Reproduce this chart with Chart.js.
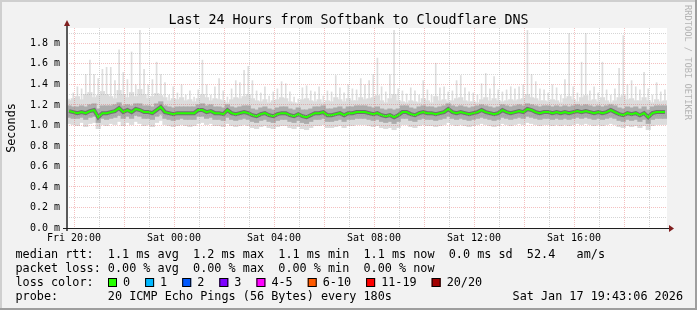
<!DOCTYPE html>
<html>
<head>
<meta charset="utf-8">
<title>Last 24 Hours from Softbank to Cloudflare DNS</title>
<script src="https://cdn.jsdelivr.net/npm/chart.js@4.4.0/dist/chart.umd.min.js"></script>
<style>
  html, body { margin: 0; padding: 0; background: #f2f2f2; }
  canvas { display: block; }
</style>
</head>
<body>
<canvas id="pingChart" width="697" height="310"></canvas>
<script>
// 24h window, one sample every 10 minutes, hours counted from Fri 00:00
const startHour = 19.72;
const endHour = 43.72;
const stepHours = 1 / 6;

// median rtt (ms)
const median = [
  1.14,1.13,1.12,1.13,1.12,1.14,1.15,1.08,1.12,1.12,1.13,1.14,1.17,1.13,1.15,1.13,1.16,1.15,1.13,1.13,1.12,1.15,1.18,1.13,1.12,1.11,1.12,1.12,1.12,1.12,1.12,1.15,1.15,1.13,1.14,1.12,
  1.12,1.11,1.15,1.12,1.11,1.12,1.13,1.12,1.10,1.09,1.11,1.12,1.10,1.09,1.11,1.12,1.12,1.10,1.09,1.11,1.09,1.08,1.10,1.12,1.12,1.13,1.10,1.10,1.11,1.12,1.10,1.12,1.12,1.13,1.13,1.13,
  1.12,1.11,1.12,1.10,1.09,1.10,1.08,1.10,1.13,1.13,1.11,1.10,1.12,1.13,1.12,1.12,1.11,1.12,1.13,1.16,1.13,1.12,1.13,1.12,1.11,1.12,1.13,1.15,1.13,1.12,1.11,1.12,1.15,1.13,1.12,1.13,
  1.14,1.13,1.16,1.15,1.13,1.12,1.13,1.13,1.12,1.13,1.12,1.13,1.12,1.13,1.14,1.13,1.14,1.13,1.12,1.13,1.12,1.13,1.15,1.13,1.11,1.10,1.12,1.11,1.12,1.10,1.12,1.08,1.12,1.13,1.13,1.13
];

// slowest ping of each round (spikes)
const pingMax = [
  1.26,1.32,1.38,1.36,1.50,1.64,1.50,1.46,1.55,1.57,1.57,1.44,1.74,1.52,1.45,1.72,1.40,1.93,1.55,1.40,1.45,1.62,1.50,1.42,1.30,1.38,1.32,1.40,1.30,1.34,1.28,1.35,1.64,1.40,1.30,1.38,
  1.46,1.34,1.28,1.36,1.44,1.42,1.54,1.58,1.44,1.34,1.32,1.38,1.29,1.33,1.36,1.43,1.41,1.33,1.28,1.26,1.37,1.39,1.34,1.33,1.38,1.29,1.34,1.33,1.49,1.37,1.32,1.40,1.36,1.35,1.46,1.40,
  1.44,1.50,1.66,1.38,1.33,1.50,1.93,1.36,1.34,1.31,1.37,1.34,1.30,1.44,1.35,1.30,1.61,1.37,1.38,1.33,1.34,1.44,1.49,1.37,1.33,1.32,1.30,1.41,1.51,1.36,1.48,1.35,1.33,1.35,1.38,1.36,
  1.38,1.40,1.93,1.50,1.43,1.36,1.35,1.32,1.40,1.37,1.30,1.45,1.90,1.38,1.32,1.62,1.90,1.34,1.38,1.32,1.62,1.35,1.30,1.36,1.56,1.88,1.40,1.44,1.38,1.35,1.52,1.36,1.30,1.42,1.33,1.35
];

// upper edge of the light smoke
const ping90 = [
  1.24,1.26,1.28,1.25,1.30,1.32,1.27,1.29,1.33,1.30,1.28,1.26,1.34,1.30,1.27,1.32,1.28,1.35,1.30,1.26,1.28,1.31,1.29,1.27,1.24,1.26,1.25,1.27,1.24,1.25,1.23,1.26,1.30,1.27,1.24,1.26,
  1.25,1.24,1.22,1.25,1.27,1.26,1.28,1.30,1.26,1.24,1.23,1.25,1.22,1.24,1.25,1.27,1.26,1.23,1.22,1.21,1.25,1.26,1.24,1.23,1.25,1.22,1.24,1.23,1.27,1.25,1.23,1.26,1.24,1.24,1.27,1.25,
  1.26,1.27,1.29,1.24,1.22,1.26,1.30,1.24,1.23,1.22,1.24,1.23,1.22,1.26,1.24,1.22,1.28,1.24,1.25,1.23,1.24,1.26,1.27,1.24,1.23,1.23,1.22,1.25,1.27,1.24,1.26,1.24,1.23,1.24,1.25,1.24,
  1.25,1.26,1.30,1.27,1.26,1.24,1.24,1.23,1.25,1.24,1.22,1.26,1.28,1.25,1.23,1.27,1.29,1.24,1.25,1.23,1.27,1.24,1.22,1.24,1.27,1.29,1.25,1.26,1.24,1.24,1.27,1.24,1.22,1.25,1.23,1.24
];

// dense smoke band
const ping80 = [
  1.19,1.18,1.18,1.19,1.18,1.20,1.21,1.16,1.19,1.19,1.19,1.20,1.22,1.19,1.20,1.19,1.21,1.21,1.19,1.19,1.18,1.21,1.23,1.19,1.18,1.17,1.18,1.18,1.18,1.18,1.18,1.20,1.21,1.19,1.20,1.18,
  1.18,1.17,1.20,1.18,1.17,1.18,1.19,1.19,1.16,1.15,1.17,1.18,1.16,1.15,1.17,1.18,1.18,1.16,1.15,1.17,1.15,1.15,1.16,1.18,1.18,1.19,1.16,1.16,1.17,1.18,1.16,1.18,1.18,1.19,1.19,1.19,
  1.18,1.17,1.18,1.16,1.15,1.16,1.15,1.16,1.19,1.19,1.17,1.16,1.18,1.19,1.18,1.18,1.17,1.18,1.19,1.21,1.19,1.18,1.19,1.18,1.17,1.18,1.19,1.20,1.19,1.18,1.17,1.18,1.20,1.19,1.18,1.19,
  1.20,1.19,1.21,1.20,1.19,1.18,1.19,1.19,1.18,1.19,1.18,1.19,1.18,1.19,1.20,1.19,1.20,1.19,1.18,1.19,1.18,1.19,1.20,1.19,1.17,1.16,1.18,1.17,1.18,1.16,1.18,1.15,1.18,1.19,1.19,1.19
];
const ping20 = [
  1.08,1.07,1.07,1.08,1.06,1.08,1.09,1.03,1.07,1.06,1.07,1.08,1.10,1.07,1.09,1.07,1.10,1.09,1.07,1.07,1.06,1.09,1.11,1.07,1.06,1.05,1.06,1.07,1.06,1.06,1.06,1.09,1.09,1.07,1.08,1.06,
  1.06,1.05,1.08,1.06,1.05,1.06,1.07,1.06,1.04,1.03,1.05,1.06,1.04,1.03,1.05,1.06,1.06,1.04,1.03,1.05,1.03,1.02,1.04,1.06,1.06,1.07,1.04,1.04,1.05,1.06,1.04,1.06,1.06,1.07,1.07,1.07,
  1.06,1.05,1.06,1.04,1.03,1.04,1.02,1.04,1.07,1.07,1.05,1.04,1.06,1.07,1.06,1.06,1.05,1.06,1.07,1.09,1.07,1.06,1.07,1.06,1.05,1.06,1.07,1.08,1.07,1.06,1.05,1.06,1.08,1.07,1.06,1.07,
  1.08,1.07,1.09,1.08,1.07,1.06,1.07,1.07,1.06,1.07,1.06,1.07,1.06,1.07,1.08,1.07,1.08,1.07,1.06,1.07,1.06,1.07,1.08,1.07,1.05,1.04,1.06,1.05,1.06,1.04,1.06,1.02,1.06,1.07,1.07,1.07
];

// fastest ping of each round
const pingMin = [
  1.02,1.01,1.00,1.03,0.99,1.02,1.03,0.97,1.01,1.00,1.02,1.01,1.04,1.00,1.03,1.01,1.04,1.02,1.00,1.01,0.99,1.03,1.05,1.01,1.00,0.99,1.00,1.01,1.00,0.99,1.00,1.02,1.03,1.01,1.02,1.00,
  1.00,0.99,1.02,1.00,0.99,1.00,1.01,1.00,0.98,0.97,0.99,1.00,0.98,0.97,0.99,1.00,1.00,0.98,0.97,0.99,0.97,0.96,0.98,1.00,1.00,1.01,0.98,0.98,0.99,1.00,0.98,1.00,1.00,1.01,1.01,1.01,
  1.00,0.99,1.00,0.98,0.97,0.98,0.96,0.98,1.01,1.01,0.99,0.98,1.00,1.01,1.00,1.00,0.99,1.00,1.01,1.03,1.01,1.00,1.01,1.00,0.99,1.00,1.01,1.02,1.01,1.00,0.99,1.00,1.02,1.01,1.00,1.01,
  1.02,1.01,1.03,1.02,1.01,1.00,1.01,1.01,1.00,1.01,1.00,1.01,1.00,1.01,1.02,1.01,1.02,1.01,1.00,1.01,1.00,1.01,1.02,1.01,0.99,0.98,1.00,0.99,1.00,0.98,1.00,0.96,1.00,1.01,1.01,1.01
];

const xTickHours = [20, 24, 28, 32, 36, 40];
const xTickLabels = ['Fri 20:00', 'Sat 00:00', 'Sat 04:00', 'Sat 08:00', 'Sat 12:00', 'Sat 16:00'];

const lossLabels = ['0', '1', '2', '3', '4-5', '6-10', '11-19', '20/20'];
const lossColors = ['#26ff00', '#00b8ff', '#0059ff', '#7e00ff', '#ff00ff', '#ff5a00', '#ff0000', '#a10000'];

const titleText = 'Last 24 Hours from Softbank to Cloudflare DNS';
const rttLine = 'median rtt:  1.1 ms avg  1.2 ms max  1.1 ms min  1.1 ms now  0.0 ms sd  52.4   am/s';
const lossLine = 'packet loss: 0.00 % avg  0.00 % max  0.00 % min  0.00 % now';
const probeLine = 'probe:       20 ICMP Echo Pings (56 Bytes) every 180s';
const stampText = 'Sat Jan 17 19:43:06 2026';

const MONO = "'DejaVu Sans Mono', 'Liberation Mono', monospace";
const minorGrid = 'rgba(150,150,150,0.4)';
const majorGrid = 'rgba(225,90,90,0.38)';

const hours = median.map((_, i) => startHour + (i + 0.5) * stepHours);
const pts = (lo, hi) => hours.map((h, i) => ({ x: h, y: [lo[i], hi[i]] }));

// rrdtool style frame, axes and legend text
const rrdFrame = {
  id: 'rrdFrame',
  beforeDraw(chart) {
    const { ctx, chartArea: a, width, height } = chart;
    ctx.save();
    ctx.fillStyle = '#f2f2f2';
    ctx.fillRect(0, 0, width, height);
    ctx.fillStyle = '#cfcfcf';
    ctx.fillRect(0, 0, width, 2);
    ctx.fillRect(0, 0, 2, height);
    ctx.fillStyle = '#9e9e9e';
    ctx.fillRect(0, height - 2, width, 2);
    ctx.fillRect(width - 2, 0, 2, height);
    ctx.fillStyle = '#ffffff';
    ctx.fillRect(a.left, a.top, a.right - a.left, a.bottom - a.top);
    ctx.restore();
  },
  afterDraw(chart) {
    const { ctx, chartArea: a, width } = chart;
    ctx.save();

    // axes
    ctx.fillStyle = '#5a5a5a';
    ctx.fillRect(a.left - 1, a.top - 3, 2, a.bottom - a.top + 6);
    ctx.fillStyle = '#1f1f1f';
    ctx.fillRect(a.left - 4, a.bottom, a.right - a.left + 7, 1);
    ctx.fillStyle = '#801f1f';
    ctx.beginPath();
    ctx.moveTo(a.left - 3, a.top - 2);
    ctx.lineTo(a.left + 3, a.top - 2);
    ctx.lineTo(a.left, a.top - 8);
    ctx.closePath();
    ctx.fill();
    ctx.beginPath();
    ctx.moveTo(a.right + 2, a.bottom - 3);
    ctx.lineTo(a.right + 2, a.bottom + 4);
    ctx.lineTo(a.right + 7, a.bottom + 0.5);
    ctx.closePath();
    ctx.fill();

    // title
    ctx.fillStyle = '#000';
    ctx.font = '13.3px ' + MONO;
    ctx.textAlign = 'center';
    ctx.textBaseline = 'alphabetic';
    ctx.fillText(titleText, width / 2, 23.5);

    // vertical unit label
    ctx.font = '11.8px ' + MONO;
    ctx.save();
    ctx.translate(15, (a.top + a.bottom) / 2);
    ctx.rotate(-Math.PI / 2);
    ctx.fillText('Seconds', 0, 0);
    ctx.restore();

    // watermark
    ctx.save();
    ctx.fillStyle = '#b4b4b4';
    ctx.font = '8.7px ' + MONO;
    ctx.textAlign = 'left';
    ctx.translate(685, 5);
    ctx.rotate(Math.PI / 2);
    ctx.fillText('RRDTOOL / TOBI OETIKER', 0, 0);
    ctx.restore();

    // legend rows
    ctx.textAlign = 'left';
    ctx.font = '11.8px ' + MONO;
    ctx.fillText(rttLine, 15.5, 258);
    ctx.fillText(lossLine, 15.5, 272);
    ctx.fillText('loss color:', 15.5, 286);
    ctx.fillText(probeLine, 15.5, 300);
    ctx.textAlign = 'right';
    ctx.fillText(stampText, 683, 300);

    ctx.textAlign = 'left';
    let bx = 108;
    lossLabels.forEach((lbl, i) => {
      ctx.fillStyle = lossColors[i];
      ctx.fillRect(bx, 278, 9, 9);
      ctx.strokeStyle = '#000';
      ctx.lineWidth = 1;
      ctx.strokeRect(bx + 0.5, 278.5, 8, 8);
      ctx.fillStyle = '#000';
      ctx.fillText(lbl, bx + 15, 286);
      bx += 15 + ctx.measureText(lbl).width + 15;
    });

    ctx.restore();
  }
};

const ctx = document.getElementById('pingChart').getContext('2d');

new Chart(ctx, {
  type: 'bar',
  data: {
    datasets: [
      {
        data: pts(ping90, pingMax),
        backgroundColor: '#dedede',
        barPercentage: 0.4,
        categoryPercentage: 1,
        order: 6
      },
      {
        data: pts(pingMin, ping90),
        backgroundColor: '#dcdcdc',
        barPercentage: 1,
        categoryPercentage: 1,
        inflateAmount: 0.5,
        order: 5
      },
      {
        data: pts(ping20, ping80),
        backgroundColor: '#acacac',
        barPercentage: 1,
        categoryPercentage: 1,
        inflateAmount: 0.5,
        order: 4
      },
      {
        type: 'line',
        data: hours.map((h, i) => ({ x: h, y: median[i] })),
        borderColor: 'rgba(40,40,40,0.45)',
        borderWidth: 4,
        pointRadius: 0,
        order: 3
      },
      {
        type: 'line',
        data: hours.map((h, i) => ({ x: h, y: median[i] })),
        borderColor: '#26ff00',
        borderWidth: 2,
        pointRadius: 0,
        order: 2
      }
    ]
  },
  options: {
    responsive: false,
    animation: false,
    devicePixelRatio: 1,
    layout: { padding: { left: 0, top: 28, right: 30, bottom: 0 } },
    datasets: { bar: { grouped: false, borderWidth: 0 } },
    scales: {
      x: {
        type: 'linear',
        min: startHour,
        max: endHour,
        offset: false,
        afterBuildTicks: (scale) => {
          scale.ticks = [];
          for (let h = 20; h <= 43; h++) scale.ticks.push({ value: h });
        },
        afterFit: (scale) => { scale.height = 82; },
        grid: {
          z: 1,
          offset: false,
          drawTicks: false,
          color: (c) => (c.tick && c.tick.value % 2 === 0) ? majorGrid : minorGrid
        },
        border: { display: false, dash: [1, 1] },
        ticks: {
          autoSkip: false,
          maxRotation: 0,
          padding: 4,
          color: '#000',
          font: { family: MONO, size: 10 },
          callback: (v) => {
            const i = xTickHours.indexOf(v);
            return i >= 0 ? xTickLabels[i] : '';
          }
        }
      },
      y: {
        min: 0,
        max: 1.95,
        afterBuildTicks: (scale) => {
          scale.ticks = [];
          for (let k = 0; k <= 19; k++) scale.ticks.push({ value: k / 10 });
        },
        afterFit: (scale) => { scale.width = 67; },
        grid: {
          z: 1,
          drawTicks: false,
          color: (c) => (c.tick && Math.round(c.tick.value * 10) % 2 === 0) ? majorGrid : minorGrid
        },
        border: { display: false, dash: [1, 1] },
        ticks: {
          autoSkip: false,
          padding: 7,
          color: '#000',
          font: { family: MONO, size: 10 },
          callback: (v) => Math.round(v * 10) % 2 === 0 ? v.toFixed(1) + ' m' : ''
        }
      }
    },
    plugins: {
      legend: { display: false },
      title: { display: false },
      tooltip: { enabled: false }
    }
  },
  plugins: [rrdFrame]
});
</script>
</body>
</html>
